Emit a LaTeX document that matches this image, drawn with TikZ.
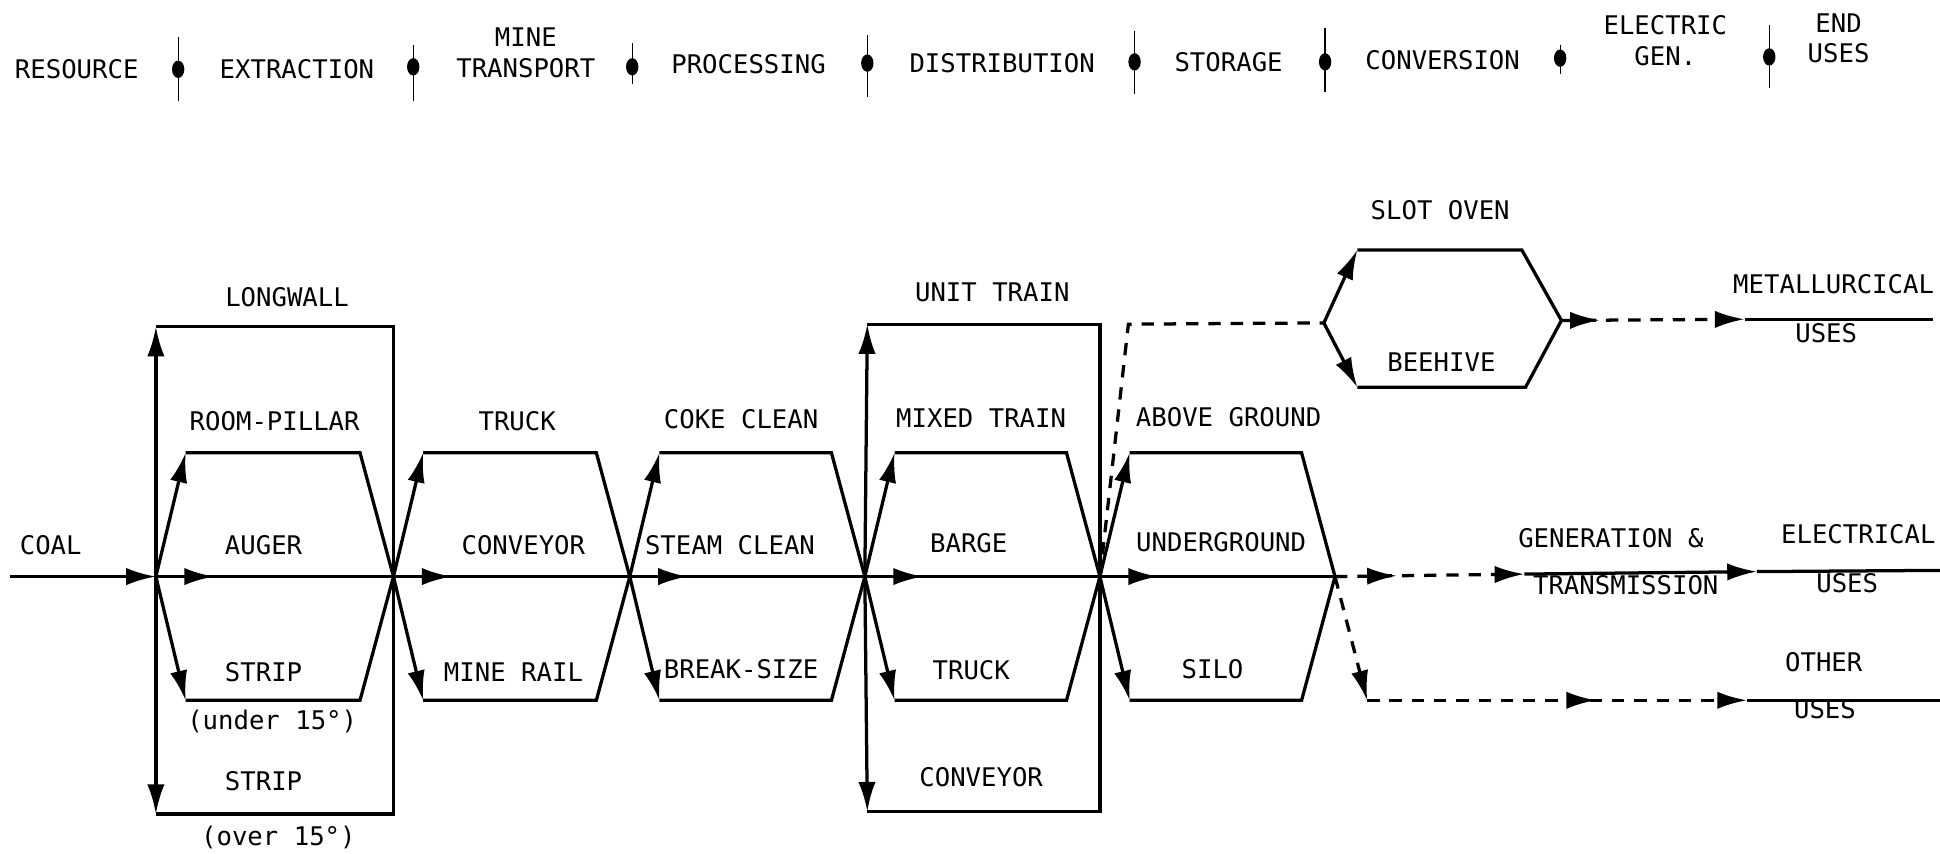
\documentclass[tikz,border=0pt]{standalone}
\usepackage{fontspec}
\setmainfont{DejaVu Sans Mono}
\usetikzlibrary{calc, arrows.meta, decorations.markings}
\tikzset{>={Latex[length=0.48cm,width=0.28cm]}}
\tikzset{
  main/.style={line width=1.5pt},
  flow/.style={line width=1.5pt, dash pattern=on 0.2cm off 0.16cm},
  midarrow/.style={postaction={decorate},
    decoration={markings, mark=at position #1 with {\arrow{>}}}},
  lbl/.style={font=\fontsize{11.8}{14.2}\selectfont, inner sep=0pt, align=center},
  tick/.style={line width=0.6pt}
}

\begin{document}
\begin{tikzpicture}[x=0.02cm, y=-0.02cm]
\useasboundingbox (0,0) rectangle (1568,690);

% stage headings
\node[lbl] (resource) at (62,56) {RESOURCE};
\node[lbl] (extraction) at (240,56) {EXTRACTION};
\node[lbl] (transport) at (425,43) {MINE\\TRANSPORT};
\node[lbl] (processing) at (605,52) {PROCESSING};
\node[lbl] (distribution) at (810,51) {DISTRIBUTION};
\node[lbl] (storage) at (993,50) {STORAGE};
\node[lbl] (conversion) at (1166,49) {CONVERSION};
\node[lbl] (electric) at (1346,33) {ELECTRIC\\GEN.};
\node[lbl] (enduses) at (1486,31) {END\\USES};
\foreach \x/\y/\t/\b in {144/56/30/82, 334/54/36/82, 511/54/35/68, 701/51/28/78,
                         917/50/25/76, 1071/50/23/74, 1261/47/36/60, 1430/46/20/71} {
  \draw[tick] (\x,\t) -- (\x,\b);
  \fill (\x,\y) ellipse [x radius=0.1cm, y radius=0.14cm];
}

% main line
\coordinate (coal) at (8,466);
\coordinate (n1) at (126,466);
\coordinate (n2) at (318,466);
\coordinate (n3) at (509,466);
\coordinate (n4) at (699,466);
\coordinate (n5) at (889,466);
\coordinate (n6) at (1079,466);
\draw[main,->] (coal) -- (n1);
\foreach \s/\a/\b in {1/n1/n2, 2/n2/n3, 3/n3/n4, 4/n4/n5, 5/n5/n6} {
  \coordinate (tl\s) at ($(\a)+(24,-100)$);
  \coordinate (bl\s) at ($(\a)+(24,100)$);
  \draw[main,->] (\a) -- (tl\s);
  \draw[main,->] (\a) -- (bl\s);
  \draw[main] (tl\s) -- ($(\b)+(-27,-100)$) -- (\b) -- ($(\b)+(-27,100)$) -- (bl\s);
  \draw[main, midarrow=0.94cm] (\a) -- (\b);
}

% longwall / strip and unit train / conveyor loops
\coordinate (lw-tl) at (126,264);
\coordinate (lw-bl) at (126,658);
\draw[main,->] (n1) -- (lw-tl);
\draw[main,->] (n1) -- (lw-bl);
\draw[main] (lw-tl) -- (lw-tl -| n2) -- (lw-bl -| n2) -- (lw-bl);
\coordinate (ut-tl) at (701,262);
\coordinate (ut-bl) at (701,656);
\draw[main,->] (n4) -- (ut-tl);
\draw[main,->] (n4) -- (ut-bl);
\draw[main] (ut-tl) -- (ut-tl -| n5) -- (ut-bl -| n5) -- (ut-bl);

% conversion
\coordinate (d1) at (912,262);
\coordinate (h0) at (1070,261);
\coordinate (cv-tl) at (1097,202);
\coordinate (cv-tr) at (1230,202);
\coordinate (h1) at (1262,259);
\coordinate (cv-br) at (1233,313);
\coordinate (cv-bl) at (1097,313);
\draw[flow] (n5) -- (d1) -- (h0);
\draw[main,->] (h0) -- (cv-tl);
\draw[main,->] (h0) -- (cv-bl);
\draw[main] (cv-tl) -- (cv-tr) -- (h1) -- (cv-br) -- (cv-bl);

% end uses
\coordinate (m1) at (1410,258);
\coordinate (m2) at (1562,258);
\coordinate (e1) at (1232,464);
\coordinate (e2) at (1420,462);
\coordinate (e3) at (1568,461);
\coordinate (o1) at (1105,566);
\coordinate (o2) at (1412,566);
\coordinate (o3) at (1568,566);
\draw[flow, midarrow=0.62cm, ->] (h1) -- (m1);
\draw[main] (m1) -- (m2);
\draw[flow, midarrow=1cm, ->] (n6) -- (e1);
\draw[main,->] (e1) -- (e2);
\draw[main] (e2) -- (e3);
\draw[flow,->] (n6) -- (o1);
\draw[flow, midarrow=3.7cm, ->] (o1) -- (o2);
\draw[main] (o2) -- (o3);

% labels
\node[lbl] (coal-l) at (41,441) {COAL};
\node[lbl] (longwall) at (232,240) {LONGWALL};
\node[lbl] (roompillar) at (222,340) {ROOM-PILLAR};
\node[lbl] (auger) at (213,441) {AUGER};
\node[lbl] (strip1) at (213,543) {STRIP};
\node[lbl] (under) at (220,583) {(under 15°)};
\node[lbl] (strip2) at (213,631) {STRIP};
\node[lbl] (over) at (225,677) {(over 15°)};
\node[lbl] (truck1) at (418,340) {TRUCK};
\node[lbl] (conveyor1) at (423,441) {CONVEYOR};
\node[lbl] (minerail) at (415,543) {MINE RAIL};
\node[lbl] (cokeclean) at (599,339) {COKE CLEAN};
\node[lbl] (steamclean) at (590,441) {STEAM CLEAN};
\node[lbl] (breaksize) at (599,541) {BREAK-SIZE};
\node[lbl] (unittrain) at (802,236) {UNIT TRAIN};
\node[lbl] (mixedtrain) at (793,338) {MIXED TRAIN};
\node[lbl] (barge) at (783,439) {BARGE};
\node[lbl] (truck2) at (785,542) {TRUCK};
\node[lbl] (conveyor2) at (793,628) {CONVEYOR};
\node[lbl] (above) at (993,337) {ABOVE GROUND};
\node[lbl] (underground) at (987,438) {UNDERGROUND};
\node[lbl] (silo) at (980,541) {SILO};
\node[lbl] (slotoven) at (1164,170) {SLOT OVEN};
\node[lbl] (beehive) at (1165,293) {BEEHIVE};
\node[lbl] (metal) at (1482,230) {METALLURCICAL};
\node[lbl] (metal-u) at (1476,269) {USES};
\node[lbl] (gen) at (1302,435) {GENERATION \&};
\node[lbl] (trans) at (1314,473) {TRANSMISSION};
\node[lbl] (elec) at (1502,432) {ELECTRICAL};
\node[lbl] (elec-u) at (1493,471) {USES};
\node[lbl] (other) at (1474,535) {OTHER};
\node[lbl] (other-u) at (1475,573) {USES};
\end{tikzpicture}
\end{document}
